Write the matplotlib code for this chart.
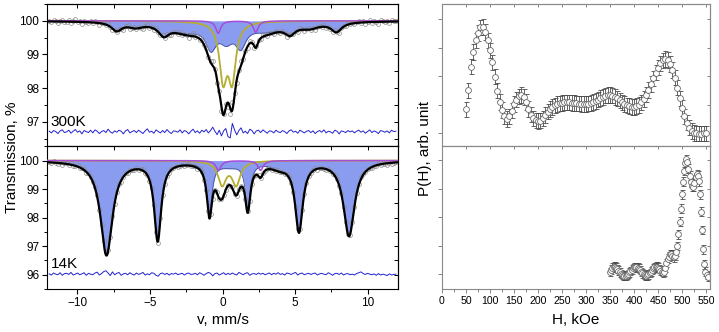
import numpy as np
import matplotlib
matplotlib.use('Agg')
import matplotlib.pyplot as plt
from matplotlib.ticker import MultipleLocator, NullFormatter

plt.rcParams['font.family'] = ['Liberation Sans', 'DejaVu Sans']

# ---------------- Mossbauer spectra ----------------
# components: line position (mm/s), depth (%), half width (mm/s)
dist300_pos = [-7.3, -6.0, -4.05, -2.5, -0.8, 0.25, 1.25, 3.0, 4.65, 6.0, 7.85]
dist300_depth = [0.25, 0.13, 0.31, 0.27, 0.67, 0.45, 0.62, 0.25, 0.26, 0.15, 0.28]
dist300_hw = [0.45, 0.6, 0.45, 1.3, 0.45, 0.55, 0.45, 1.3, 0.45, 0.8, 0.45]
dbl300_pos = [0.04, 0.66]
dbl300_depth = [1.64, 1.64]
dbl300_hw = [0.31, 0.31]
fe2_300_pos = [-0.3, 2.29]
fe2_300_depth = [0.37, 0.34]
fe2_300_hw = [0.2, 0.2]

sext14_pos = [-8.0, -4.47, -0.9, 1.74, 5.27, 8.72, 0.45, 3.9]
sext14_depth = [3.3, 2.75, 1.75, 1.53, 2.42, 2.62, 0.15, 0.18]
sext14_hw = [0.5, 0.29, 0.22, 0.22, 0.32, 0.46, 0.9, 0.7]
dbl14_pos = [-0.03, 0.94]
dbl14_depth = [0.82, 0.82]
dbl14_hw = [0.34, 0.34]
fe2_14_pos = [-0.28, 2.62]
fe2_14_depth = [0.34, 0.34]
fe2_14_hw = [0.22, 0.22]

# residuals (data - fit), in 0.01 %
res300 = [2, -3, 4, 1, -5, 3, 6, -2, 0, 5, -4, 2, 7, -1, 3, -6, 4, 1, -2, 5,
          -3, 6, 2, -5, 1, 4, -2, 8, 0, -4, 3, -1, 5, 2, -6, 3, 7, -3, 1, 4,
          -2, 5, 0, -5, 3, 9, -1, 2, -4, 6, 1, -3, 4, -2, 7, 0, -5, 3, 2, -1,
          6, -3, 4, 1, -6, 2, 8, -2, 3, -4, 5, 0, 7, -3, 4, 14, 2, -8, 5, -12,
          3, 10, -14, -18, 25, 6, -9, 4, 12, -3, 2, -5, 8, 4, -6, 3, 5, -2, 6, 1,
          -4, 3, 2, -3, 5, 0, -2, 4, 1, -5, 3, 6, -1, 2, -4, 5, 1, -3, 2, 4,
          -2, 3, -5, 1, 4, -1, 6, -3, 2, 0, -4, 5, 2, -6, 3, 1, -2, 4, 0, 3,
          -3, 2, 5, -1, 3, -4, 1, 6, -2, 3, 0, -5, 4, 2, -1, 3, -3, 5, 1, 2]
res14 = [1, -3, 4, 0, -2, 5, -4, 2, 3, -1, 6, -3, 0, 4, -2, 1, 5, -4, 3, 0,
         -2, 4, 7, -3, 2, 9, 12, 4, -5, 8, -2, 3, 6, -4, 1, 3, -2, 5, 0, -3,
         4, -1, 2, 6, -3, 1, -2, 5, 3, -4, -7, 2, 4, -1, 3, -3, 2, 0, 4, -2,
         1, 3, -3, 2, 4, -1, 0, 3, -2, 5, 1, -4, 2, 6, 3, -6, 2, 4, -3, 1,
         5, -2, 3, -1, 4, 0, -3, 6, 2, -2, 3, 5, -4, 1, 2, -1, 4, 0, 3, -2,
         1, 4, -2, 3, 0, 5, -1, 2, -3, 4, 2, -1, 3, 6, -3, 2, 4, -2, 1, 3,
         -1, 2, 4, -3, 1, 3, 0, -2, 5, 1, -4, 2, 3, -1, 4, -3, 1, 2, -2, 0,
         -3, 2, 5, 8, 2, -1, 3, 0, -2, 1, -4, 2, -3, 0, -2, -5, 1, -3, -1, 0]

# ---------------- hyperfine field distributions ----------------
h300 = np.arange(50, 551, 5)
p300 = [0.84, 1.5, 2.33, 2.85, 3.25, 3.5, 3.7, 3.72, 3.55, 3.25,
        2.9, 2.48, 1.98, 1.49, 1.1, 0.81, 0.6, 0.5, 0.6, 0.8,
        1.02, 1.18, 1.29, 1.34, 1.28, 1.1, 0.85, 0.66, 0.53, 0.46,
        0.43, 0.45, 0.53, 0.65, 0.76, 0.86, 0.93, 0.98, 1.02, 1.05,
        1.07, 1.08, 1.08, 1.08, 1.07, 1.06, 1.05, 1.04, 1.03, 1.03,
        1.03, 1.04, 1.06, 1.09, 1.13, 1.18, 1.23, 1.28, 1.32, 1.34,
        1.34, 1.32, 1.28, 1.22, 1.15, 1.08, 1.02, 0.98, 0.95, 0.93,
        0.93, 0.95, 1.0, 1.08, 1.2, 1.35, 1.52, 1.72, 1.92, 2.12,
        2.3, 2.45, 2.55, 2.6, 2.56, 2.43, 2.22, 1.95, 1.6, 1.22,
        0.88, 0.6, 0.38, 0.2, 0.08, 0.02, 0.0, -0.01, -0.01, 0.0,
        0.0]
p300_err = 0.27

h14 = [350, 352.5, 355, 357.5, 360, 362.5, 365, 367.5, 370, 372.5,
       375, 377.5, 380, 382.5, 385, 387.5, 390, 392.5, 395, 397.5,
       400, 402.5, 405, 407.5, 410, 412.5, 415, 417.5, 420, 422.5,
       425, 427.5, 430, 432.5, 435, 437.5, 440, 442.5, 445, 447.5,
       450, 452.5, 455, 457.5, 460, 462.5, 465, 467.5, 470, 472.5,
       475, 477.5, 480, 482.5, 485, 487.5,
       490, 492.5, 495, 497, 499, 501, 503, 505.5, 508, 510.5,
       513, 515.5, 518, 520.5, 523, 525.5, 528, 530.5, 533, 535.5,
       538, 540, 542, 544, 546, 548, 551, 554]
p14 = [0.08, 0.17, 0.24, 0.27, 0.27, 0.24, 0.19, 0.13, 0.07, 0.02,
       -0.02, -0.04, -0.05, -0.04, -0.02, 0.02, 0.07, 0.12, 0.17, 0.22,
       0.25, 0.26, 0.26, 0.24, 0.2, 0.15, 0.09, 0.04, 0.0, -0.03,
       -0.04, -0.03, 0.0, 0.05, 0.1, 0.16, 0.21, 0.25, 0.27, 0.27,
       0.24, 0.19, 0.13, 0.08, 0.05, 0.1, 0.22, 0.4, 0.55, 0.62,
       0.7, 0.72, 0.66, 0.6, 0.66, 0.8,
       1.0, 1.4, 1.85, 2.3, 2.8, 3.24, 3.62, 3.88, 4.02, 3.92,
       3.7, 3.45, 3.22, 3.08, 3.05, 3.2, 3.4, 3.5, 3.45, 3.25,
       2.8, 2.2, 1.55, 0.88, 0.35, 0.1, -0.02, -0.08]
p14_err = 0.15


def lines(v, pos, depth, hw):
    out = np.zeros_like(v)
    for p, d, w in zip(pos, depth, hw):
        out += d / (1 + ((v - p) / w) ** 2)
    return out


v = np.linspace(-12.1, 12.1, 1500)
v_dat = np.linspace(-11.95, 11.95, len(res300))

fig = plt.figure(figsize=(7.19, 3.32), dpi=100)
ax1 = fig.add_axes([0.0654, 0.5602, 0.4882, 0.4277])
ax2 = fig.add_axes([0.0654, 0.1295, 0.4882, 0.4307])
ax3 = fig.add_axes([0.6147, 0.5602, 0.3727, 0.4277])
ax4 = fig.add_axes([0.6147, 0.1295, 0.3727, 0.4307])

c_fill = '#8a9cf0'
c_olive = '#b5ae2e'
c_purple = '#a64bd8'

spectra = [
    (ax1, (dist300_pos, dist300_depth, dist300_hw), (dbl300_pos, dbl300_depth, dbl300_hw),
     (fe2_300_pos, fe2_300_depth, fe2_300_hw), res300, 96.70, (96.28, 100.5), '300K', 96.86),
    (ax2, (sext14_pos, sext14_depth, sext14_hw), (dbl14_pos, dbl14_depth, dbl14_hw),
     (fe2_14_pos, fe2_14_depth, fe2_14_hw), res14, 96.02, (95.5, 100.51), '14K', 96.23),
]

for ax, mag, dbl, fe2, res, base, ylim, label, ly in spectra:
    m = lines(v, *mag)
    d = lines(v, *dbl)
    f = lines(v, *fe2)
    total = 100 - m - d - f
    ax.fill_between(v, 100, 100 - m, color=c_fill, lw=0, zorder=1)
    ax.plot(v, 100 - m, color='#41509c', lw=0.6, zorder=1.5)
    fit_dat = 100 - lines(v_dat, *mag) - lines(v_dat, *dbl) - lines(v_dat, *fe2)
    ax.plot(v_dat, fit_dat + np.array(res) / 100, 'o', mfc='none', mec='#8c8c8c',
            ms=2.8, mew=0.5, zorder=2)
    ax.plot(v, 100 - d, color=c_olive, lw=1.3, zorder=3)
    ax.plot(v, 100 - f, color=c_purple, lw=1.1, zorder=4)
    ax.plot(v, total, color='black', lw=1.6, zorder=5)
    ax.plot(v_dat, base + np.array(res) / 100, color='#2222d0', lw=0.7, zorder=3)
    ax.text(-11.85, ly, label, fontsize=11, va='baseline')
    ax.set_xlim(-12.1, 12.1)
    ax.set_ylim(*ylim)
    ax.yaxis.set_major_locator(MultipleLocator(1))
    ax.yaxis.set_minor_locator(MultipleLocator(0.5))
    ax.xaxis.set_major_locator(MultipleLocator(5))
    ax.xaxis.set_minor_locator(MultipleLocator(2.5))
    ax.tick_params(which='major', direction='out', length=3.5, width=0.8, labelsize=8.5, pad=2)
    ax.tick_params(which='minor', direction='out', length=2, width=0.7)
    sx = ax.secondary_xaxis('top')
    sx.xaxis.set_major_locator(MultipleLocator(5))
    sx.xaxis.set_minor_locator(MultipleLocator(2.5))
    sx.tick_params(which='both', direction='in', labeltop=False, length=3, width=0.7)
    sy = ax.secondary_yaxis('right')
    sy.yaxis.set_major_locator(MultipleLocator(1))
    sy.yaxis.set_minor_locator(MultipleLocator(0.5))
    sy.tick_params(which='both', direction='in', labelright=False, length=3, width=0.7)

ax1.xaxis.set_major_formatter(NullFormatter())

# P(H) panels
for ax, h, p, err, ylim in [(ax3, h300, p300, p300_err, (-0.44, 4.52)),
                            (ax4, h14, p14, p14_err, (-0.51, 4.49))]:
    ax.errorbar(h, p, yerr=err, fmt='o', mfc='white', mec='#6a6a6a', ms=4.2, mew=0.6,
                ecolor='#4a4a4a', elinewidth=0.6, capsize=1.8, capthick=0.6)
    ax.set_xlim(0, 558)
    ax.set_ylim(*ylim)
    ax.xaxis.set_major_locator(MultipleLocator(50))
    ax.xaxis.set_minor_locator(MultipleLocator(25))
    ax.yaxis.set_major_locator(MultipleLocator(1))
    ax.yaxis.set_major_formatter(NullFormatter())
    for s in ax.spines.values():
        s.set_color('#8a8a8a')
    ax.tick_params(which='major', direction='out', length=3, width=0.6, color='#707070',
                   labelsize=7.6, pad=2)
    ax.tick_params(which='minor', direction='out', length=1.8, width=0.6, color='#707070')
    sx = ax.secondary_xaxis('top')
    sx.xaxis.set_major_locator(MultipleLocator(50))
    sx.tick_params(direction='in', labeltop=False, length=2.5, width=0.6, color='#707070')
    sx.spines['top'].set_color('#8a8a8a')
    sy = ax.secondary_yaxis('right')
    sy.yaxis.set_major_locator(MultipleLocator(1))
    sy.tick_params(direction='in', labelright=False, length=2.5, width=0.6, color='#707070')
    sy.spines['right'].set_color('#8a8a8a')

ax3.xaxis.set_major_formatter(NullFormatter())

fig.text(0.017, 0.527, 'Transmission, %', rotation=90, ha='center', va='center', fontsize=11)
fig.text(0.591, 0.553, 'P(H), arb. unit', rotation=90, ha='center', va='center', fontsize=11)
fig.text(0.3095, 0.036, 'v, mm/s', ha='center', va='center', fontsize=11)
fig.text(0.801, 0.036, 'H, kOe', ha='center', va='center', fontsize=11)

fig.savefig('out.png', dpi=100)
